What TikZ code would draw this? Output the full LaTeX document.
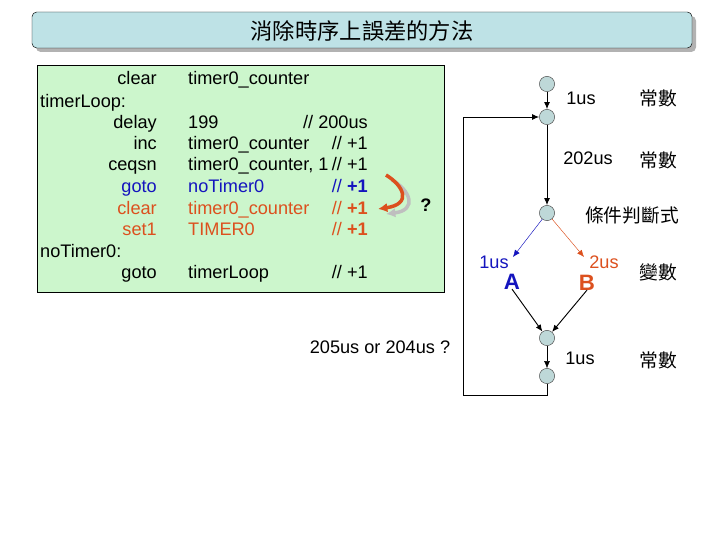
\documentclass[tikz,border=0pt]{standalone}
\usepackage{fontspec}
\setmainfont{Liberation Sans}
\newfontfamily\cjk{Noto Sans CJK TC}
\usetikzlibrary{arrows.meta,positioning}
\definecolor{titlefill}{RGB}{190,226,230}
\definecolor{codefill}{RGB}{204,246,204}
\definecolor{dotfill}{RGB}{190,216,216}
\definecolor{codeblue}{RGB}{20,20,190}
\definecolor{codered}{RGB}{220,80,30}
\newcommand\dsl{//}
\tikzset{
  code/.style={font=\fontsize{15.5}{18}\selectfont, inner sep=0pt},
  dot/.style={circle, draw=black!70, fill=dotfill, minimum size=13pt, inner sep=0pt},
  flow/.style={-{Latex[length=6pt,width=5pt]}, thick},
  lbl/.style={font=\fontsize{15.5}{18}\selectfont},
  cj/.style={font=\cjk\fontsize{16}{18}\selectfont},
}
\begin{document}
\begin{tikzpicture}[x=0.03cm,y=-0.03cm]
  \useasboundingbox (0,0) rectangle (720,540);
  % title bar
  \fill[gray!60, rounded corners=4pt] (36,16) rectangle (696,52);
  \draw[fill=titlefill, rounded corners=4pt] (32,12) rectangle (692,48);
  \node[font=\cjk\fontsize{19}{22}\selectfont] (title) at (362,31) {消除時序上誤差的方法};

  % code box
  \draw[fill=codefill] (37,65) rectangle (444,292);
  \foreach \y/\op/\arg/\cmt/\col in {80/clear/timer0\_counter/{}/black,
      124/delay/199/{\dsl\ 200us}/black, 145/inc/timer0\_counter/{\dsl\ +1}/black,
      166/ceqsn/{timer0\_counter, 1}/{\dsl\ +1}/black,
      188/goto/noTimer0/{\dsl\ \textbf{+1}}/codeblue,
      210/clear/timer0\_counter/{\dsl\ \textbf{+1}}/codered,
      231/set1/TIMER0/{\dsl\ \textbf{+1}}/codered,
      274/goto/timerLoop/{\dsl\ +1}/black} {
    \node[code, text=\col, anchor=base east] at (157,\y+5) {\op};
    \node[code, text=\col, anchor=base west] at (188,\y+5) {\arg};
    \node[code, text=\col, anchor=base east] at (368,\y+5) {\cmt};
  }
  \node[code, anchor=base west] (lbl1) at (40,108) {timerLoop:};
  \node[code, anchor=base west] (lbl2) at (40,258) {noTimer0:};

  % jump arrow
  \draw[line width=3pt, black!25, -{Latex[length=8pt,width=8pt]}]
    (392,180) .. controls (410,190) and (418,210) .. (386,214);
  \draw[line width=3pt, codered, -{Latex[length=8pt,width=8pt]}]
    (386,175) .. controls (404,186) and (412,204) .. (378,209);
  \node[lbl, font=\bfseries\fontsize{15.5}{18}\selectfont] (ask) at (426,205) {?};
  \node[lbl] (total) at (380,347) {205us or 204us ?};

  % flow graph
  \node[dot] (d1) at (547,84) {};
  \node[dot] (d2) at (547,117) {};
  \node[dot] (d3) at (547,213) {};
  \node[dot] (d4) at (547,338) {};
  \node[dot] (d5) at (547,376) {};
  \node[font=\bfseries\fontsize{19}{22}\selectfont, text=codeblue] (a) at (512,282) {A};
  \node[font=\bfseries\fontsize{19}{22}\selectfont, text=codered] (b) at (587,283) {B};
  \coordinate (corner1) at (547,395);
  \coordinate (corner2) at (463,395);
  \coordinate (corner3) at (463,117);

  \draw[flow] (d1) -- (d2);
  \draw[flow] (d2) -- (d3);
  \draw[flow, thin, codeblue] (d3) -- (513,257);
  \draw[flow, thin, codered] (d3) -- (584,257);
  \draw[flow] (a.south) ++(0,4pt) -- (d4);
  \draw[flow] (b.south) ++(0,4pt) -- (d4);
  \draw[flow, thin] (d4) -- (d5);
  \draw[thick] (d5) -- (corner1) -- (corner2) -- (corner3);
  \draw[flow] (corner3) -- (d2);

  \node[lbl] at (581,98) {1us};
  \node[cj] at (658,98) {常數};
  \node[lbl] at (588,158) {202us};
  \node[cj] at (658,160) {常數};
  \node[cj] at (632,215) {條件判斷式};
  \node[lbl, text=codeblue] at (494,262) {1us};
  \node[lbl, text=codered] at (604,262) {2us};
  \node[cj] at (658,272) {變數};
  \node[lbl] at (580,358) {1us};
  \node[cj] at (658,360) {常數};
\end{tikzpicture}
\end{document}
